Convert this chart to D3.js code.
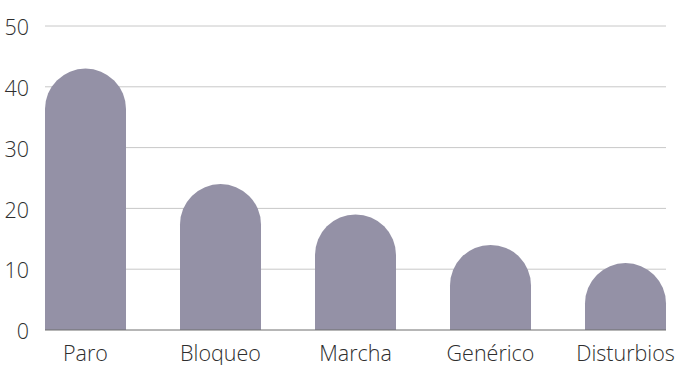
<!DOCTYPE html>
<html>
<head>
<meta charset="utf-8">
<script src="https://cdn.jsdelivr.net/npm/d3@7"></script>
<style>
  html, body { margin: 0; padding: 0; background: #fff; }
  svg { display: block; }
  text { font-family: "Open Sans", sans-serif; font-weight: 300; fill: #2e2e2e; }
</style>
</head>
<body>
<svg id="chart" width="678" height="365"></svg>
<script>
const categories = ["Paro", "Bloqueo", "Marcha", "Genérico", "Disturbios"];
const values = [43, 24, 19, 14, 11];
const yTicks = [0, 10, 20, 30, 40, 50];

const W = 678, H = 365;
const margin = { left: 45, right: 12, top: 26, bottom: 35 };
const svg = d3.select("#chart");

const x = d3.scaleBand()
  .domain(categories)
  .range([margin.left, W - margin.right])
  .paddingInner(0.4)
  .paddingOuter(0);

const y = d3.scaleLinear()
  .domain([0, 50])
  .range([H - margin.bottom, margin.top]);

// gridlines
svg.append("g")
  .selectAll("line")
  .data(yTicks.filter(d => d > 0))
  .join("line")
  .attr("x1", margin.left)
  .attr("x2", W - margin.right)
  .attr("y1", d => y(d))
  .attr("y2", d => y(d))
  .attr("stroke", "#c8c8c8")
  .attr("stroke-width", 1);

// y tick labels
svg.append("g")
  .selectAll("text")
  .data(yTicks)
  .join("text")
  .attr("x", 29)
  .attr("y", d => y(d))
  .attr("dy", "0.43em")
  .attr("text-anchor", "end")
  .attr("font-size", 21.5)
  .text(d => d);

// bars with semicircular caps
const bw = x.bandwidth();
const r = bw / 2;
svg.append("g")
  .selectAll("path")
  .data(categories.map((c, i) => ({ c, v: values[i] })))
  .join("path")
  .attr("fill", "#9491a6")
  .attr("d", d => {
    const x0 = x(d.c), x1 = x0 + bw;
    const top = y(d.v), base = y(0);
    const capY = top + r;
    return `M${x0},${base} L${x0},${capY} A${r},${r} 0 0 1 ${x1},${capY} L${x1},${base} Z`;
  });

// x axis line
svg.append("line")
  .attr("x1", margin.left)
  .attr("x2", W - margin.right)
  .attr("y1", y(0))
  .attr("y2", y(0))
  .attr("stroke", "#6e6e6e")
  .attr("stroke-width", 1);

// category labels
svg.append("g")
  .selectAll("text")
  .data(categories)
  .join("text")
  .attr("x", d => x(d) + bw / 2)
  .attr("y", y(0) + 31)
  .attr("text-anchor", "middle")
  .attr("font-size", 21.5)
  .text(d => d);
</script>
</body>
</html>
